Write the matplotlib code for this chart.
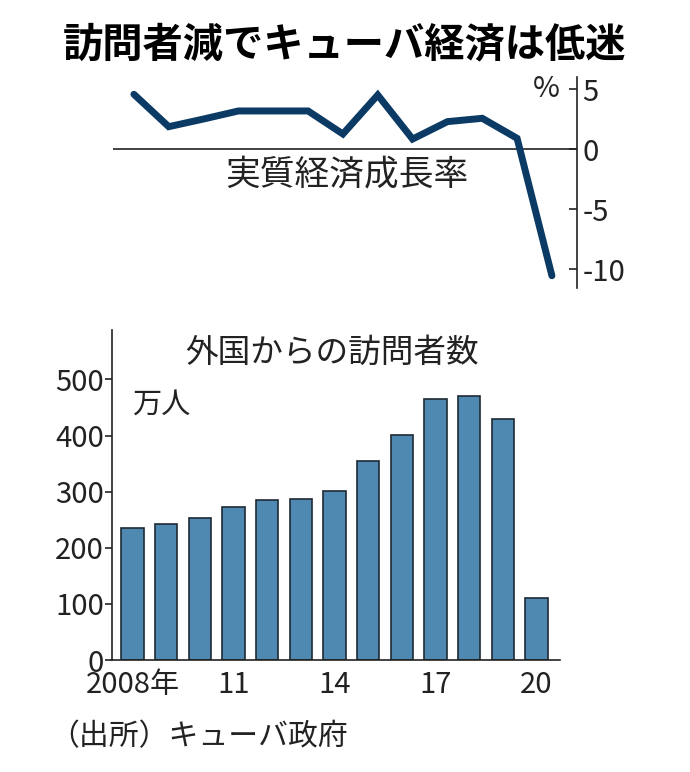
import matplotlib.pyplot as plt

plt.rcParams['font.family'] = ['Noto Sans CJK JP', 'DejaVu Sans']

# Data
years = list(range(2008, 2021))
gdp_growth = [4.56, 1.86, 2.5, 3.17, 3.17, 3.17, 1.25, 4.5, 0.83, 2.28, 2.56, 0.89, -10.56]
visitors = [235, 243, 253, 272, 285, 287, 302, 354, 401, 465, 471, 429, 110]
xtick_years = [2008, 2011, 2014, 2017, 2020]
xtick_labels = ['2008年', '11', '14', '17', '20']
gdp_ticks = [5, 0, -5, -10]
visitor_ticks = [0, 100, 200, 300, 400, 500]

W, H = 690, 772
fig = plt.figure(figsize=(W / 100, H / 100), dpi=100)

def box(x0, x1, y0, y1):
    # pixel box -> figure fraction
    return [x0 / W, 1 - y1 / H, (x1 - x0) / W, (y1 - y0) / H]

cjk = ['Noto Sans CJK JP', 'DejaVu Sans']
dark = '#222222'

fig.text(345 / W, 1 - 45 / H, '訪問者減でキューバ経済は低迷', ha='center', va='center',
         fontsize=29, fontweight='bold', family=cjk)

# Top panel: GDP growth line
ax1 = fig.add_axes(box(113, 577, 77, 288))
ax1.plot(years, gdp_growth, color='#0b3a64', lw=5, solid_capstyle='round', solid_joinstyle='miter')
ax1.axhline(0, color=dark, lw=1.2, zorder=0)
ax1.set_xlim(2007.40, 2020.72)
ax1.set_ylim(-11.58, 6.0)
for s in ['top', 'left', 'bottom']:
    ax1.spines[s].set_visible(False)
ax1.spines['right'].set_color(dark)
ax1.spines['right'].set_linewidth(1.2)
ax1.set_xticks([])
ax1.yaxis.tick_right()
ax1.set_yticks(gdp_ticks)
ax1.set_yticklabels([str(t) for t in gdp_ticks], fontsize=21, color=dark)
ax1.tick_params(axis='y', direction='in', length=6, width=1.2, pad=4, colors=dark)
ax1.text(0.963, 5.0, '%', transform=ax1.get_yaxis_transform(), ha='right', va='center',
         fontsize=21, color=dark)
ax1.text(2014.1, -2.2, '実質経済成長率', ha='center', va='center', fontsize=25, family=cjk,
         color=dark)

# Bottom panel: visitors bar chart
ax2 = fig.add_axes(box(112, 560, 330, 660))
ax2.bar(years, visitors, width=0.67, color='#4f88b0', edgecolor='#1e2a33', linewidth=1.2)
ax2.set_xlim(2007.39, 2020.70)
ax2.set_ylim(0, 588)
for s in ['top', 'right']:
    ax2.spines[s].set_visible(False)
for s in ['left', 'bottom']:
    ax2.spines[s].set_color(dark)
    ax2.spines[s].set_linewidth(1.2)
ax2.set_yticks(visitor_ticks)
ax2.set_yticklabels([str(t) for t in visitor_ticks], fontsize=21, color=dark)
ax2.tick_params(axis='y', direction='out', length=5, width=1.2, pad=1, colors=dark)
ax2.set_xticks(xtick_years)
ax2.set_xticklabels(xtick_labels, fontsize=21, color=dark)
ax2.tick_params(axis='x', length=0, pad=7)
ax2.text(2013.92, 548, '外国からの訪問者数', ha='center', va='center', fontsize=23.5, family=cjk,
         color=dark)
ax2.text(2007.99, 454, '万人', ha='left', va='center', fontsize=21, family=cjk, color=dark)

fig.text(49 / W, 1 - 737 / H, '（出所）キューバ政府', ha='left', va='center', fontsize=21.5,
         family=cjk, color=dark)

fig.savefig('out.png', dpi=100)
